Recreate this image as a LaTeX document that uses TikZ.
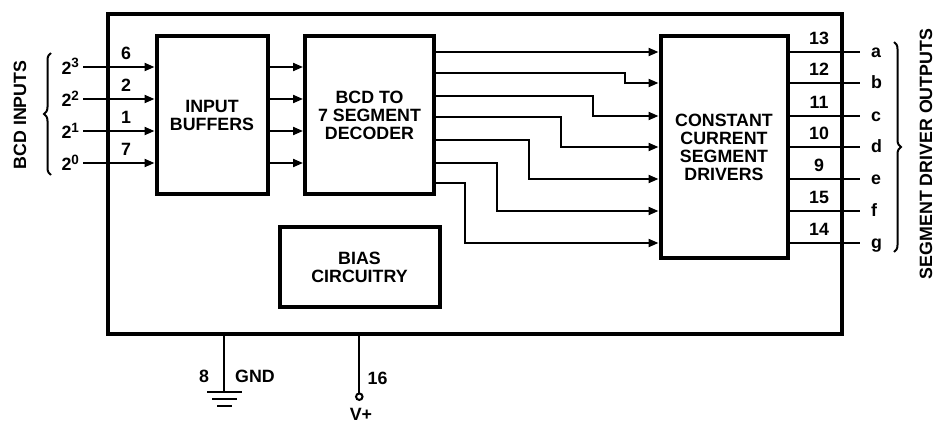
\documentclass[tikz,border=0pt]{standalone}
\usepackage{fontspec}
\setmainfont{Liberation Sans}
\usetikzlibrary{arrows.meta,decorations.pathreplacing}
\begin{document}
\begin{tikzpicture}[x=1pt,y=-1pt,
  every node/.style={font=\fontsize{17.8}{18}\selectfont\bfseries, inner sep=0pt, outer sep=0pt},
  blk/.style={draw, line width=4pt, outer sep=2pt, align=center},
  arr/.style={line width=2pt, -{Triangle[length=10pt,width=8pt]}},
  wire/.style={line width=2pt},
  brc/.style={line width=2pt, decorate, decoration={brace, amplitude=7pt}},
  pin/.style={anchor=center},
  seg/.style={anchor=base west}]
\useasboundingbox (0,0) rectangle (943,423);

% blocks
\node[blk, minimum width=734.5pt, minimum height=320pt] (chip) at (474.75,174) {};
\node[blk, minimum width=111pt, minimum height=158pt] (buf) at (212,115) {INPUT\\BUFFERS};
\node[blk, minimum width=129pt, minimum height=158pt] (dec) at (369.5,115) {BCD TO\\7 SEGMENT\\DECODER};
\node[blk, minimum width=127pt, minimum height=222.5pt] (drv) at (724,147) {CONSTANT\\CURRENT\\SEGMENT\\DRIVERS};
\node[blk, minimum width=160pt, minimum height=79.5pt] (bias) at (359.5,267) {BIAS\\CIRCUITRY};

% inputs
\foreach \n/\y/\e/\p in {3/67/3/6, 2/99/2/2, 1/131/1/1, 0/163/0/7}{
  \coordinate (in\n) at (83,\y);
  \node[anchor=base east] (lab\n) at (79,\y+7) {2\raisebox{6pt}{\fontsize{13.5}{14}\selectfont\bfseries \e}};
  \node[pin] (pn\n) at (126,\y-14) {\p};
  \draw[arr] (in\n) -- (in\n -| buf.west);
  \draw[arr] (buf.east |- in\n) -- (dec.west |- in\n);
}

% decoder to drivers
\foreach \s/\yo/\yi in {a/52/52, b/73/83, c/96/116, d/117/147, e/140/179, f/163/211, g/183/243}{
  \coordinate (do\s) at (dec.east |- 0,\yo);
  \coordinate (di\s) at (drv.west |- 0,\yi);
}
\coordinate (jb) at (625,83);
\coordinate (jc) at (593,116);
\coordinate (jd) at (561,147);
\coordinate (je) at (529,179);
\coordinate (jf) at (497,211);
\coordinate (jg) at (465,243);
\draw[arr] (doa) -- (dia);
\foreach \s in {b,c,d,e,f,g}{
  \draw[arr] (do\s) -| (j\s) -- (di\s);
}

% outputs
\foreach \s/\y/\p in {a/52/13, b/83/12, c/116/11, d/147/10, e/179/9, f/211/15, g/243/14}{
  \coordinate (oe\s) at (860,\y);
  \draw[wire] (drv.east |- oe\s) -- (oe\s);
  \node[pin] (op\s) at (819,\y-13.5) {\p};
  \node[seg] (ol\s) at (871,\y+5) {\s};
}

% braces and group labels
\coordinate (lb1) at (51,175);
\coordinate (lb2) at (51,53);
\draw[brc] (lb1) -- (lb2);
\node[rotate=90] (bcdin) at (20,115) {BCD INPUTS};
\coordinate (rb1) at (894,42);
\coordinate (rb2) at (894,252);
\draw[brc] (rb1) -- (rb2);
\node[rotate=90] (segout) at (926,154) {SEGMENT DRIVER OUTPUTS};

% ground
\coordinate (gnd) at (224,392);
\draw[wire] (gnd |- chip.south) -- (gnd);
\draw[wire] (207,392) -- (242,392);
\draw[wire] (212,399) -- (237,399);
\draw[wire] (217,406) -- (232,406);
\node (p8) at (204,376) {8};
\node (gndl) at (255,376) {GND};

% V+
\node[draw, circle, line width=2pt, minimum size=6.5pt] (vc) at (359.3,396.7) {};
\draw[wire] (vc.north |- chip.south) -- (vc.north);
\node (p16) at (377.5,378) {16};
\node (vpl) at (361,414.5) {V+};
\end{tikzpicture}
\end{document}
